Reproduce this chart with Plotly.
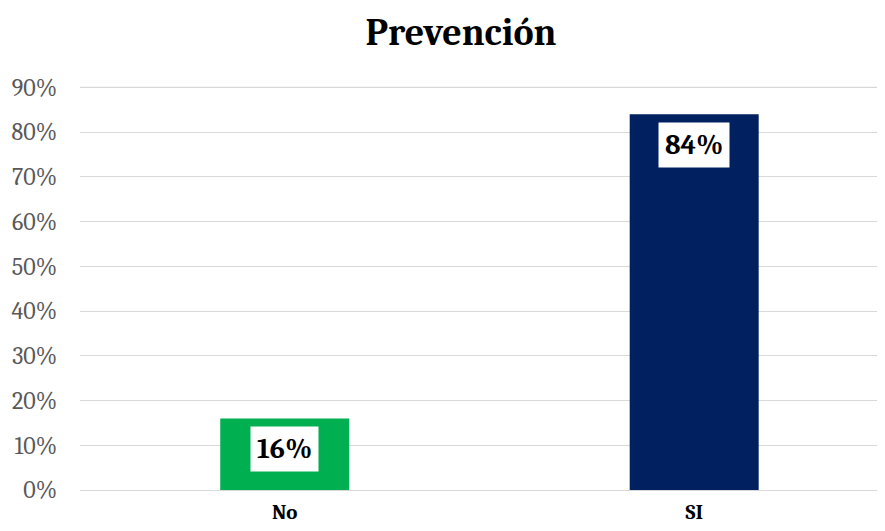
import plotly.graph_objects as go

categorias = ["No", "SI"]
valores = [0.16, 0.84]
colores = ["#00B050", "#002060"]
ticks = [0, 0.1, 0.2, 0.3, 0.4, 0.5, 0.6, 0.7, 0.8, 0.9]

SERIF = "Cambria, 'DejaVu Serif', serif"

fig = go.Figure()

fig.add_trace(go.Bar(
    x=categorias,
    y=valores,
    marker=dict(color=colores, line=dict(width=0)),
    width=0.315,
    hoverinfo="skip",
))

# etiquetas de valor en caja blanca dentro de cada barra
for cat, v in zip(categorias, valores):
    fig.add_annotation(
        x=cat, y=v, xref="x", yref="y",
        text=f"<b>{round(v * 100)}%</b>",
        showarrow=False, yanchor="top", yshift=-8,
        bgcolor="white", borderpad=6,
        font=dict(family=SERIF, size=28, color="black"),
    )

# línea de cuadrícula superior (90%), que plotly no pinta en el borde
fig.add_hline(y=ticks[-1], line=dict(color="#D9D9D9", width=1.3), layer="below")

# la página tiene 8px de margen en body: figura de 877x523 para que quepa
fig.update_layout(
    width=877, height=523,
    margin=dict(l=72, r=0, t=78, b=41),
    paper_bgcolor="white", plot_bgcolor="white",
    showlegend=False,
    title=dict(
        text="<b>Prevención</b>", x=0.5165, xref="container", y=0.954, yref="container",
        xanchor="center", yanchor="middle",
        font=dict(family=SERIF, size=38, color="black"),
    ),
)

fig.update_yaxes(
    range=[0, 0.903], tickvals=ticks, tickformat=".0%",
    showgrid=True, gridcolor="#D9D9D9", gridwidth=1.3,
    zeroline=False, showline=False, ticks="",
    tickfont=dict(family=SERIF, size=24, color="#595959"),
    ticklabelstandoff=22, automargin=False,
)
fig.update_xaxes(
    type="category", range=[-0.5, 1.466],
    showline=True, linecolor="#D9D9D9", linewidth=1.3, ticks="",
    tickfont=dict(family=SERIF, size=21, color="black"),
    tickprefix="<b>", ticksuffix="</b>",
    ticklabelstandoff=3, automargin=False,
)

fig.write_html("out.html")
